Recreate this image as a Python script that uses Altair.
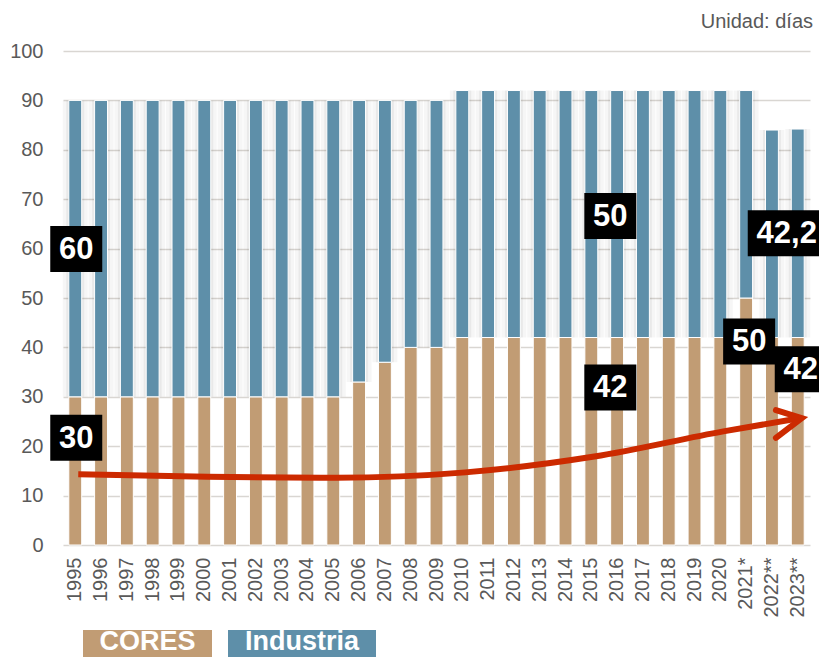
import altair as alt
import pandas as pd

FONT = "Liberation Sans"

# ---------------- data ----------------
years = ["1995", "1996", "1997", "1998", "1999", "2000", "2001", "2002", "2003",
         "2004", "2005", "2006", "2007", "2008", "2009", "2010", "2011", "2012",
         "2013", "2014", "2015", "2016", "2017", "2018", "2019", "2020",
         "2021*", "2022**", "2023**"]
cores = [30, 30, 30, 30, 30, 30, 30, 30, 30, 30, 30, 33, 37, 40, 40,
         42, 42, 42, 42, 42, 42, 42, 42, 42, 42, 42, 50, 42, 42]
industria = [60, 60, 60, 60, 60, 60, 60, 60, 60, 60, 60, 57, 53, 50, 50,
             50, 50, 50, 50, 50, 50, 50, 50, 50, 50, 50, 42, 42, 42.2]
series = ["CORES", "Industria"]
colors = ["#c19c74", "#5e8fa9"]

# trend arrow
arrow_years = ["1995", "2000", "2005", "2010", "2015", "2020", "2023**"]
arrow_vals = [14.3, 13.8, 13.6, 14.7, 17.9, 23.0, 25.7]
head_years = ["2022**", "2023**", "2022**"]
head_vals = [27.3, 25.7, 21.7]

# annotation labels
lab_years = ["1995", "1995", "2015", "2015", "2021*", "2023**", "2023**"]
lab_text = ["60", "30", "50", "42", "50", "42,2", "42"]
lab_pos = [59.9, 21.7, 66.6, 31.9, 41.2, 63.1, 35.6]

# ---------------- tables ----------------
long_rows = []
for y, c, i in zip(years, cores, industria):
    long_rows.append({"year": y, "serie": "CORES", "value": c, "ord": 0})
    long_rows.append({"year": y, "serie": "Industria", "value": i, "ord": 1})
df_long = pd.DataFrame(long_rows)
df_wide = pd.DataFrame({"year": years, "cores": cores,
                        "total": [c + i for c, i in zip(cores, industria)]})
df_arrow = pd.DataFrame({"year": arrow_years, "v": arrow_vals})
df_head = pd.DataFrame({"year": head_years, "v": head_vals,
                        "o": list(range(len(head_years)))})
one = pd.DataFrame({"a": [0]})

W, H = 747, 494
GRAY = "#595959"

xenc = alt.X("year:N", sort=years, title=None,
             scale=alt.Scale(paddingInner=0.5, paddingOuter=0.225),
             axis=alt.Axis(labelAngle=-90, labelFontSize=20, labelColor=GRAY,
                           labelFont=FONT, ticks=False, domain=False,
                           labelPadding=12, grid=False))
yscale = alt.Scale(domain=[0, 100], nice=False)
yaxis = alt.Axis(values=list(range(0, 101, 10)), labelFontSize=20,
                 labelColor=GRAY, labelFont=FONT, ticks=False, domain=False,
                 labelPadding=20, gridColor="#d9d6d2", gridWidth=1.5)

shadow1 = alt.Chart(df_wide).mark_bar(color="black", opacity=0.035, width=25).encode(
    x=xenc,
    y=alt.Y("cores:Q", scale=yscale, axis=yaxis, title=None),
    y2="total:Q",
)
shadow2 = alt.Chart(df_wide).mark_bar(color="black", opacity=0.05, width=18).encode(
    x=xenc, y=alt.Y("cores:Q", scale=yscale, title=None), y2="total:Q",
)

bars = alt.Chart(df_long).mark_bar(stroke="white", strokeWidth=1).encode(
    x=xenc,
    y=alt.Y("value:Q", stack="zero", scale=yscale, title=None),
    color=alt.Color("serie:N", scale=alt.Scale(domain=series, range=colors),
                    legend=None),
    order=alt.Order("ord:Q"),
)

RED = "#cc2a00"
curve = alt.Chart(df_arrow).mark_line(color=RED, strokeWidth=6,
                                      interpolate="monotone", strokeCap="butt",
                                      xOffset=3).encode(
    x=xenc, y=alt.Y("v:Q", scale=yscale, title=None))
head = alt.Chart(df_head).mark_line(color=RED, strokeWidth=6, strokeCap="round",
                                    strokeJoin="miter", xOffset=4).encode(
    x=xenc, y=alt.Y("v:Q", scale=yscale, title=None), order="o:Q")

layers = [shadow1, shadow2, bars, curve, head]

# annotation boxes
lab_dx = [1, 1, 19, 19, 3, -11, 3]
lab_w = [52, 52, 52, 52, 52, 78, 52]
for yr, tx, pv, dx, bw in zip(lab_years, lab_text, lab_pos, lab_dx, lab_w):
    d = pd.DataFrame({"year": [yr], "v": [pv], "t": [tx]})
    hh = 46 / bw
    path = f"M-1,-{hh:.3f}H1V{hh:.3f}H-1Z"
    box = alt.Chart(d).mark_point(shape=path, size=bw * bw, filled=True,
                                  color="black", opacity=1, strokeWidth=0,
                                  xOffset=dx).encode(
        x=xenc, y=alt.Y("v:Q", scale=yscale, title=None))
    txt = alt.Chart(d).mark_text(font=FONT, fontSize=31, fontWeight="bold",
                                 color="white", baseline="middle", dy=1,
                                 xOffset=dx).encode(
        x=xenc, y=alt.Y("v:Q", scale=yscale, title=None), text="t:N")
    layers += [box, txt]

unit = alt.Chart(one).mark_text(text="Unidad: días", font=FONT, fontSize=20,
                                color=GRAY, align="right",
                                baseline="alphabetic").encode(
    x=alt.value(750), y=alt.value(-23))
layers.append(unit)

# legend boxes
leg_x = [(20, 149), (165, 313)]
for name, col, (x0, x1) in zip(series, colors, leg_x):
    r = alt.Chart(one).mark_rect(color=col).encode(
        x=alt.value(x0), x2=alt.value(x1), y=alt.value(579), y2=alt.value(620))
    t = alt.Chart(one).mark_text(text=name, font=FONT, fontSize=27,
                                 fontWeight="bold", color="white",
                                 align="center", baseline="alphabetic").encode(
        x=alt.value((x0 + x1) / 2), y=alt.value(599))
    layers += [r, t]

chart = alt.layer(*layers).properties(
    width=W, height=H,
    autosize=alt.AutoSizeParams(type="none"),
    padding={"left": 55, "top": 43, "right": 9, "bottom": 112},
    background="white",
).configure_view(stroke=None)

chart.save("out.html", embed_options={"renderer": "svg", "actions": False})
